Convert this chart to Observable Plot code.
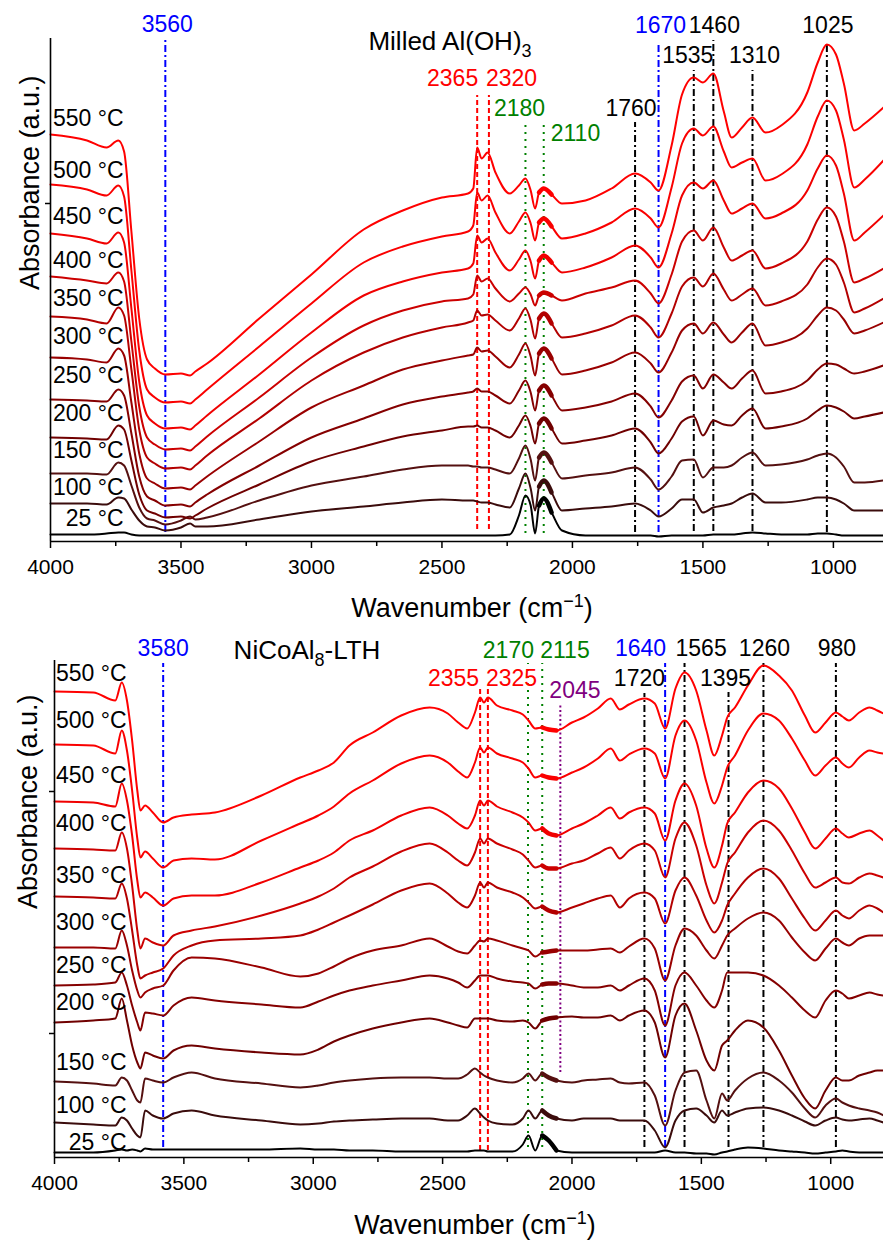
<!DOCTYPE html>
<html><head><meta charset="utf-8">
<script src="https://cdn.jsdelivr.net/npm/d3@7"></script>
<script src="https://cdn.jsdelivr.net/npm/@observablehq/plot@0.6"></script>
<style>
body{margin:0;background:#fff;width:883px;height:1245px;overflow:hidden;font-family:"Liberation Sans",Arial,sans-serif;}
#top,#bottom{display:block;line-height:0;}
</style></head><body>
<div id="top"></div><div id="bottom"></div>
<script>
// ---------- shared ----------
const temps = [25, 100, 150, 200, 250, 300, 350, 400, 450, 500, 550];
const tempColors = ["#000000", "#3b0c0c", "#551010", "#700000", "#850000", "#990000", "#b30000", "#cc0000", "#f00000", "#fa0000", "#ff0000"];
const majorTicks = [4000, 3500, 3000, 2500, 2000, 1500, 1000];
const minorTicks = [3750, 3250, 2750, 2250, 1750, 1250];

// ---------- top panel: Milled Al(OH)3 (absorbance x100, a.u.) ----------
const wnTop = [4000,3860,3785,3740,3718,3690,3660,3630,3600,3560,3500,3465,3445,3400,3200,3000,2800,2650,2500,2400,2380,2365,2348,2325,2295,2240,2205,2180,2160,2143,2128,2110,2080,2040,1950,1850,1760,1700,1670,1620,1580,1535,1500,1460,1420,1390,1350,1310,1260,1200,1100,1060,1025,990,960,920,880,808];
const top25  = [7,7,8,9,9,7,6,6,6,6,6,6,6,6,6,6,6,6,6,6,6,6,6,6,6,7,26,46,36,8,36,43,29,11,6,6,6,6,5,6,6,6,6,7,7,7,8,9,8,7,7,8,8,7,6,6,6,6];
const top100 = [38,38,37,44,43,32,21,15,14,11,14,18,15,15,22,30,35,39,42,41,41,40,39,39,37,34,53,68,53,31,55,61,49,31,33,35,38,31,25,33,42,42,29,34,36,38,44,48,39,39,42,44,44,42,38,31,31,31];
const top150 = [68,68,67,79,76,56,34,23,21,17,21,25,22,24,41,56,65,72,76,76,75,75,74,74,72,68,83,96,82,61,84,89,79,63,66,69,74,62,52,65,81,82,64,74,74,76,84,89,76,77,82,86,88,84,75,59,59,61];
const top200 = [104,103,102,116,112,81,47,31,28,24,25,23,26,33,57,80,95,105,111,115,115,116,114,114,111,104,116,126,115,98,118,123,113,98,101,106,113,99,88,103,120,125,106,121,117,116,126,133,113,115,123,131,136,134,130,123,125,129];
const top250 = [142,141,140,152,146,108,65,45,41,36,37,35,39,47,76,104,123,137,145,149,150,153,150,150,146,138,151,161,149,131,151,156,146,131,134,140,148,135,124,141,160,166,153,167,159,153,163,171,148,150,161,172,178,177,173,168,170,176];
const top300 = [184,182,179,193,186,139,88,63,58,53,54,52,56,65,100,134,156,172,181,186,187,194,190,191,185,174,187,198,185,166,188,193,183,167,171,179,189,178,169,189,211,218,208,219,207,199,209,218,196,199,213,226,234,231,222,208,211,219];
const top350 = [225,222,218,234,226,172,112,84,78,73,74,72,76,86,123,161,189,204,214,219,221,231,226,227,221,211,223,233,221,203,223,228,218,204,208,216,226,214,204,228,255,264,255,268,252,241,247,253,236,240,257,274,283,277,259,229,233,243];
const top400 = [265,261,258,269,260,200,135,104,97,92,93,91,95,105,144,184,216,231,240,243,247,266,260,263,253,240,248,254,247,236,246,249,246,241,248,254,261,248,238,267,300,311,301,314,294,281,286,291,273,278,300,322,334,325,300,259,263,273];
const top450 = [308,303,298,309,299,233,160,126,118,113,114,112,116,126,167,209,246,260,269,273,278,306,299,303,289,271,282,291,280,263,281,286,279,269,274,284,296,284,274,308,346,359,353,361,341,328,333,338,323,328,351,373,386,376,348,301,309,326];
const top500 = [357,352,346,356,345,271,191,152,144,139,140,138,142,152,195,238,279,295,305,310,316,349,341,346,329,308,320,329,318,301,319,323,315,303,308,319,333,323,314,354,398,413,406,415,390,374,379,383,361,367,397,425,441,431,402,354,362,381];
const top550 = [407,401,394,401,390,310,223,182,173,167,168,166,170,178,223,267,312,331,344,348,353,394,383,389,369,348,356,363,351,333,349,353,347,338,341,353,368,359,351,396,447,464,459,468,430,404,414,424,409,416,449,479,497,487,458,411,418,434];

const peaksTop = [3560, 2365, 2320, 2180, 2110, 1760, 1670, 1535, 1460, 1310, 1025];
const peakKindsTop = ["blue", "red", "red", "green", "green", "black", "blue", "black", "black", "black", "black"];
const peakTopsTop = [5.01, 4.46, 4.46, 4.16, 4.16, 4.19, 4.99, 4.71, 5.01, 4.71, 4.99];
const peakBottomsTop = [0.09, 0.12, 0.12, 0.08, 0.08, 0.09, 0.09, 0.10, 0.10, 0.10, 0.09];

// ---------- bottom panel: NiCoAl8-LTH (absorbance x100, a.u.) ----------
const wnBot = [4000,3850,3765,3740,3720,3700,3680,3668,3650,3620,3580,3540,3470,3380,3200,3050,2980,2920,2860,2770,2660,2550,2480,2440,2405,2375,2355,2340,2325,2290,2230,2190,2168,2142,2115,2090,2060,2000,1955,1900,1850,1815,1780,1720,1680,1640,1600,1565,1520,1480,1450,1420,1400,1370,1320,1260,1200,1150,1100,1060,1020,980,955,930,890,850,820,796];
const bot25  = [5,5,7,8,7,8,7,6,9,8,8,8,8,8,8,9,8,8,7,7,6,6,6,6,6,7,7,7,6,6,6,13,22,7,22,17,7,5,5,5,5,5,5,5,5,7,5,5,4,4,3,5,6,8,10,9,7,6,5,4,5,6,7,6,5,5,5,5];
const bot100 = [35,33,32,40,37,29,22,20,47,42,39,44,47,42,37,33,34,36,37,38,39,39,37,37,42,49,44,40,37,34,33,39,47,39,47,42,39,37,39,39,39,37,37,37,27,10,37,47,49,42,35,47,42,45,49,50,47,42,36,32,37,40,38,37,38,39,37,35];
const bot150 = [76,74,72,80,77,67,57,55,79,77,75,80,85,79,74,70,72,75,77,79,80,80,79,79,83,89,85,82,80,77,75,79,84,77,84,80,77,75,77,78,79,75,74,75,62,32,67,85,87,57,39,64,57,67,79,85,77,65,49,40,52,59,55,52,49,47,45,42];
const bot200 = [135,137,139,159,137,112,95,89,105,102,99,107,112,109,105,103,108,116,122,129,135,139,135,132,130,139,139,139,139,137,136,137,135,129,137,139,140,141,140,140,142,137,142,147,135,100,142,154,127,97,87,112,117,127,137,130,107,82,59,49,67,80,77,77,82,85,87,87];
const bot250 = [172,173,175,185,172,152,135,127,145,144,142,152,160,157,153,150,156,162,167,172,177,182,179,175,170,177,182,182,182,179,176,175,174,169,173,174,174,172,170,170,172,167,172,179,167,132,172,185,172,157,150,167,185,185,185,182,172,160,147,140,157,167,164,159,162,165,163,162];
const bot300 = [210,210,209,227,212,187,167,160,165,169,172,187,200,199,190,181,184,191,199,207,212,219,211,206,204,212,217,216,219,217,212,209,207,201,205,206,207,207,207,208,209,205,211,219,209,177,212,229,222,207,199,212,222,229,239,245,237,220,205,197,209,219,215,212,219,222,222,222];
const bot350 = [261,260,259,274,259,227,192,179,182,185,189,202,212,217,219,222,228,235,242,253,267,274,264,255,250,262,275,270,275,270,265,260,255,249,251,247,245,250,254,259,262,250,259,265,259,234,267,280,262,237,225,237,252,264,280,289,279,259,239,227,237,247,242,239,247,252,249,245];
const bot400 = [309,308,307,325,309,272,227,209,219,215,212,222,227,231,242,254,261,269,280,291,306,314,305,297,292,305,319,314,319,314,308,303,297,290,292,289,289,294,297,304,310,299,307,314,307,280,319,335,312,272,254,275,294,305,325,337,327,307,284,270,275,280,275,274,280,284,282,280];
const bot450 = [356,355,351,374,357,322,277,260,265,260,252,259,262,262,275,290,297,305,317,327,342,350,342,334,329,342,357,352,357,351,345,340,335,327,329,324,322,329,334,342,350,339,345,350,344,317,357,374,352,309,290,312,334,345,365,377,369,349,325,309,319,329,324,320,324,327,322,317];
const bot500 = [413,412,404,427,407,367,319,300,306,299,290,297,299,298,317,334,342,351,364,377,394,402,395,386,380,395,410,405,410,404,399,395,389,380,382,380,379,385,390,399,409,397,403,409,404,379,422,437,417,375,354,372,390,402,427,444,437,419,397,382,392,400,394,390,400,407,405,404];
const bot550 = [466,465,457,475,457,417,367,347,352,345,335,340,343,345,362,380,387,395,412,425,442,450,444,435,429,445,460,455,460,452,447,443,437,429,430,428,427,435,440,449,459,448,453,459,454,429,469,485,467,427,402,422,440,450,472,492,482,467,442,425,435,445,441,437,445,450,447,444];

const peaksBot = [3580, 2355, 2325, 2170, 2115, 2045, 1720, 1640, 1565, 1395, 1260, 980];
const peakKindsBot = ["blue", "red", "red", "green", "green", "purple", "black", "blue", "black", "black", "black", "black"];
const peakTopsBot = [4.94, 4.69, 4.69, 4.94, 4.94, 4.52, 4.64, 4.94, 4.94, 4.65, 4.94, 4.94];
const peakBottomsBot = [0.10, 0.07, 0.07, 0.10, 0.10, 0.85, 0.10, 0.10, 0.10, 0.10, 0.10, 0.10];

// ---------- styles / layout (not data) ----------
const kindStyle = {
  blue:   {stroke: "#0000ff", dash: "7,3,2,3"},
  red:    {stroke: "#ff0000", dash: "5,3"},
  green:  {stroke: "#008000", dash: "2,5"},
  black:  {stroke: "#000000", dash: "7,3,2,3"},
  purple: {stroke: "#800080", dash: "2,2.5"}
};
const FONT = "Liberation Sans, Arial, sans-serif";

function buildPanel(cfg) {
  const rows = [];
  cfg.series.forEach((vals, i) => vals.forEach((v, j) => rows.push({wn: cfg.wn[j], a: v / 100, T: temps[i]})));
  const band = rows.filter(r => r.wn <= cfg.band[0] && r.wn >= cfg.band[1]);
  const ann = cfg.peaks.map((wn, i) => ({wn, kind: cfg.kinds[i], top: cfg.tops[i], bottom: cfg.bottoms[i]}));
  const marks = [
    Plot.axisX({ticks: majorTicks, tickSize: 7, tickPadding: 11, tickFormat: d => String(d), fontSize: 21, label: null, strokeWidth: 1.5}),
    Plot.axisX({ticks: minorTicks, tickSize: 5, tickFormat: () => "", label: null, strokeWidth: 1.5}),
    Plot.axisY({ticks: cfg.yTicks, tickSize: 5, tickFormat: () => "", label: null, strokeWidth: 1.5}),
  ];
  for (const k of Object.keys(kindStyle)) {
    const sub = ann.filter(d => d.kind === k);
    if (!sub.length) continue;
    marks.push(Plot.ruleX(sub, {x: "wn", y1: "bottom", y2: "top", stroke: kindStyle[k].stroke, strokeWidth: 2, strokeDasharray: kindStyle[k].dash}));
  }
  marks.push(Plot.line(rows, {x: "wn", y: "a", z: "T", stroke: "T", strokeWidth: 2, curve: "monotone-x"}));
  marks.push(Plot.line(band, {x: "wn", y: "a", z: "T", stroke: "T", strokeWidth: 4.5, curve: "monotone-x"}));
  marks.push(Plot.ruleY([0], {stroke: "#000", strokeWidth: 1.6}));
  marks.push(Plot.ruleX([4000], {stroke: "#000", strokeWidth: 1.6}));
  temps.forEach((t, i) => {
    marks.push(Plot.text([t], {x: 4000, y: cfg.series[i][0] / 100, text: d => `${d} °C`, textAnchor: "end", dx: cfg.labelDx, dy: cfg.labelDy[i], fontSize: 23, lineAnchor: "middle", fill: "#000"}));
  });
  ann.forEach((d, i) => {
    marks.push(Plot.text([d], {x: "wn", y: "top", text: e => String(e.wn), fill: kindStyle[d.kind].stroke, textAnchor: cfg.annAnchor[i], dx: cfg.annDx[i], dy: cfg.annDy[i], fontSize: 23, lineAnchor: "middle"}));
  });
  marks.push(Plot.text([cfg.title], {frameAnchor: "top", text: d => d, dx: cfg.titleDx, dy: cfg.titleDy, fontSize: 26, lineAnchor: "middle", fill: "#000"}));
  marks.push(Plot.text(["Wavenumber (cm-1)"], {frameAnchor: "bottom", text: d => d, dx: cfg.xlabDx, dy: cfg.xlabDy, fontSize: 27, lineAnchor: "middle", fill: "#000"}));
  marks.push(Plot.text(["Absorbance (a.u.)"], {frameAnchor: "left", text: d => d, dx: cfg.ylabDx, rotate: -90, fontSize: 27, lineAnchor: "middle", fill: "#000"}));

  return Plot.plot({
    width: 883, height: cfg.height,
    marginLeft: cfg.marginLeft, marginRight: 0, marginTop: cfg.marginTop, marginBottom: cfg.marginBottom,
    x: {domain: cfg.xDomain, label: null},
    y: {domain: cfg.yDomain, label: null},
    color: {type: "ordinal", domain: temps, range: tempColors},
    style: {fontFamily: FONT, background: "#fff", color: "#000", overflow: "visible"},
    marks
  });
}

function richText(svg, match, parts) {
  d3.select(svg).selectAll("text").filter(function () { return this.textContent === match; }).each(function () {
    const t = d3.select(this);
    t.text(null);
    parts.forEach(p => {
      const s = t.append("tspan").text(p.t);
      if (p.dy != null) s.attr("dy", p.dy);
      if (p.fs != null) s.attr("font-size", p.fs);
    });
  });
}

const svgTop = buildPanel({
  wn: wnTop, series: [top25, top100, top150, top200, top250, top300, top350, top400, top450, top500, top550],
  band: [2128, 2075],
  peaks: peaksTop, kinds: peakKindsTop, tops: peakTopsTop, bottoms: peakBottomsTop,
  annAnchor: ["middle", "end", "start", "middle", "start", "middle", "middle", "middle", "middle", "middle", "middle"],
  annDx: [2, 1, -3, -6, 7, -4, 2, -6, 1, 2, 1],
  annDy: [-16, -17, -17, -17, 8, -14, -17, -15, -15, -15, -17],
  labelDx: 73, labelDy: [-16, -16, -23, -24, -24, -21, -18, -16, -17, -14, -16],
  yTicks: [3.38],
  title: "Milled Al(OH)3", titleDx: -17, titleDy: 3,
  xlabDx: 5, xlabDy: 67, ylabDx: -20,
  height: 620, marginLeft: 50, marginTop: 38, marginBottom: 79,
  xDomain: [4000, 808], yDomain: [0, 5.03]
});
const svgBot = buildPanel({
  wn: wnBot, series: [bot25, bot100, bot150, bot200, bot250, bot300, bot350, bot400, bot450, bot500, bot550],
  band: [2116, 2060],
  peaks: peaksBot, kinds: peakKindsBot, tops: peakTopsBot, bottoms: peakBottomsBot,
  annAnchor: ["middle", "end", "start", "end", "start", "start", "middle", "end", "start", "middle", "middle", "middle"],
  annDx: [0, -1, -2, 6, -2, -11, -5, 1, -9, -3, 1, 1],
  annDy: [-15, -10, -10, -13, -13, -15, -15, -15, -15, -14, -15, -15],
  labelDx: 72, labelDy: [-10, -17, -19, -20, -20, -25, -21, -25, -26, -24, -18],
  yTicks: [3.66, 1.24],
  title: "NiCoAl8-LTH", titleDx: -162, titleDy: -10,
  xlabDx: 6, xlabDy: 68, ylabDx: -26,
  height: 625, marginLeft: 54, marginTop: 40, marginBottom: 88,
  xDomain: [4000, 796], yDomain: [0, 4.97]
});

richText(svgTop, "Milled Al(OH)3", [{t: "Milled Al(OH)"}, {t: "3", dy: "7", fs: "18"}]);
richText(svgBot, "NiCoAl8-LTH", [{t: "NiCoAl"}, {t: "8", dy: "7", fs: "18"}, {t: "-LTH", dy: "-7"}]);
[svgTop, svgBot].forEach(s => richText(s, "Wavenumber (cm-1)", [{t: "Wavenumber (cm"}, {t: "\u22121", dy: "-10", fs: "18"}, {t: ")", dy: "10"}]));

document.getElementById("top").append(svgTop);
document.getElementById("bottom").append(svgBot);
</script>
</body></html>
